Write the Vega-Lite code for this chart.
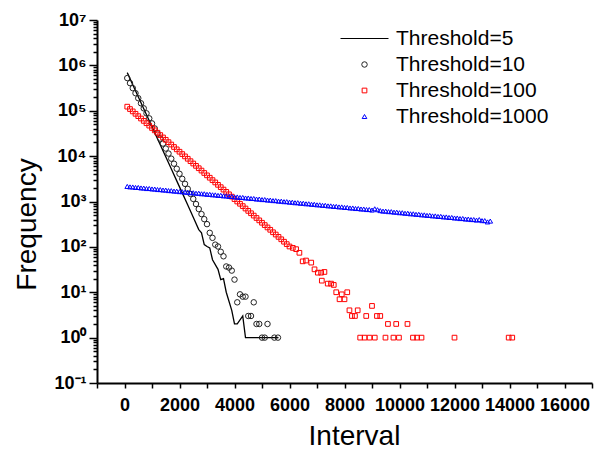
{
  "$schema": "https://vega.github.io/schema/vega-lite/v6.json",
  "width": 495,
  "height": 363,
  "autosize": {"type": "none"},
  "padding": {"left": 97, "top": 20, "right": 5, "bottom": 69},
  "background": "white",
  "config": {
    "view": {"stroke": null},
    "font": "Liberation Sans",
    "axis": {
      "grid": false,
      "domainColor": "#000000",
      "domainWidth": 2,
      "tickColor": "#000000",
      "tickWidth": 1.5,
      "labelFont": "Liberation Sans",
      "labelFontWeight": "bold",
      "labelFontSize": 18,
      "labelColor": "#000000",
      "titleFont": "Liberation Sans",
      "titleFontWeight": "normal",
      "titleFontSize": 28,
      "titleColor": "#000000"
    },
    "legend": {
      "title": null,
      "orient": "none",
      "legendX": 243,
      "legendY": -6,
      "padding": 0,
      "symbolStrokeWidth": 1,
      "labelOffset": 7,
      "labelFont": "Liberation Sans",
      "labelFontSize": 21,
      "labelColor": "#000000",
      "rowPadding": 4
    }
  },
  "data": {
    "values": [
      {"series": "Threshold=5", "interval": 100, "freq": 692000},
      {"series": "Threshold=5", "interval": 300, "freq": 376000},
      {"series": "Threshold=5", "interval": 500, "freq": 204000},
      {"series": "Threshold=5", "interval": 700, "freq": 111000},
      {"series": "Threshold=5", "interval": 900, "freq": 60300},
      {"series": "Threshold=5", "interval": 1100, "freq": 32700},
      {"series": "Threshold=5", "interval": 1300, "freq": 17800},
      {"series": "Threshold=5", "interval": 1500, "freq": 9660},
      {"series": "Threshold=5", "interval": 1700, "freq": 5250},
      {"series": "Threshold=5", "interval": 1900, "freq": 2850},
      {"series": "Threshold=5", "interval": 2100, "freq": 1550},
      {"series": "Threshold=5", "interval": 2300, "freq": 841},
      {"series": "Threshold=5", "interval": 2500, "freq": 450},
      {"series": "Threshold=5", "interval": 2700, "freq": 240},
      {"series": "Threshold=5", "interval": 2800, "freq": 204},
      {"series": "Threshold=5", "interval": 2900, "freq": 112},
      {"series": "Threshold=5", "interval": 3000, "freq": 102},
      {"series": "Threshold=5", "interval": 3100, "freq": 95},
      {"series": "Threshold=5", "interval": 3200, "freq": 52},
      {"series": "Threshold=5", "interval": 3400, "freq": 32},
      {"series": "Threshold=5", "interval": 3500, "freq": 19},
      {"series": "Threshold=5", "interval": 3600, "freq": 20},
      {"series": "Threshold=5", "interval": 3700, "freq": 10},
      {"series": "Threshold=5", "interval": 3900, "freq": 4},
      {"series": "Threshold=5", "interval": 4000, "freq": 2},
      {"series": "Threshold=5", "interval": 4100, "freq": 2},
      {"series": "Threshold=5", "interval": 4300, "freq": 3},
      {"series": "Threshold=5", "interval": 4400, "freq": 1},
      {"series": "Threshold=5", "interval": 5000, "freq": 1},
      {"series": "Threshold=5", "interval": 5600, "freq": 1},

      {"series": "Threshold=10", "interval": 100, "freq": 525000},
      {"series": "Threshold=10", "interval": 200, "freq": 406000},
      {"series": "Threshold=10", "interval": 300, "freq": 315000},
      {"series": "Threshold=10", "interval": 400, "freq": 244000},
      {"series": "Threshold=10", "interval": 500, "freq": 189000},
      {"series": "Threshold=10", "interval": 600, "freq": 146000},
      {"series": "Threshold=10", "interval": 700, "freq": 113000},
      {"series": "Threshold=10", "interval": 800, "freq": 87700},
      {"series": "Threshold=10", "interval": 900, "freq": 67900},
      {"series": "Threshold=10", "interval": 1000, "freq": 52600},
      {"series": "Threshold=10", "interval": 1100, "freq": 40700},
      {"series": "Threshold=10", "interval": 1200, "freq": 31600},
      {"series": "Threshold=10", "interval": 1300, "freq": 24400},
      {"series": "Threshold=10", "interval": 1400, "freq": 18900},
      {"series": "Threshold=10", "interval": 1500, "freq": 14700},
      {"series": "Threshold=10", "interval": 1600, "freq": 11400},
      {"series": "Threshold=10", "interval": 1700, "freq": 8790},
      {"series": "Threshold=10", "interval": 1800, "freq": 6810},
      {"series": "Threshold=10", "interval": 1900, "freq": 5270},
      {"series": "Threshold=10", "interval": 2000, "freq": 4080},
      {"series": "Threshold=10", "interval": 2100, "freq": 3160},
      {"series": "Threshold=10", "interval": 2200, "freq": 2450},
      {"series": "Threshold=10", "interval": 2300, "freq": 1900},
      {"series": "Threshold=10", "interval": 2400, "freq": 1470},
      {"series": "Threshold=10", "interval": 2500, "freq": 1140},
      {"series": "Threshold=10", "interval": 2600, "freq": 881},
      {"series": "Threshold=10", "interval": 2700, "freq": 682},
      {"series": "Threshold=10", "interval": 2800, "freq": 528},
      {"series": "Threshold=10", "interval": 2900, "freq": 409},
      {"series": "Threshold=10", "interval": 3000, "freq": 317},
      {"series": "Threshold=10", "interval": 3100, "freq": 204},
      {"series": "Threshold=10", "interval": 3200, "freq": 158},
      {"series": "Threshold=10", "interval": 3300, "freq": 112},
      {"series": "Threshold=10", "interval": 3400, "freq": 102},
      {"series": "Threshold=10", "interval": 3500, "freq": 78},
      {"series": "Threshold=10", "interval": 3600, "freq": 62},
      {"series": "Threshold=10", "interval": 3700, "freq": 37},
      {"series": "Threshold=10", "interval": 3800, "freq": 35},
      {"series": "Threshold=10", "interval": 3900, "freq": 30},
      {"series": "Threshold=10", "interval": 4000, "freq": 19},
      {"series": "Threshold=10", "interval": 4100, "freq": 6},
      {"series": "Threshold=10", "interval": 4200, "freq": 9},
      {"series": "Threshold=10", "interval": 4300, "freq": 8},
      {"series": "Threshold=10", "interval": 4400, "freq": 8},
      {"series": "Threshold=10", "interval": 4500, "freq": 3},
      {"series": "Threshold=10", "interval": 4600, "freq": 3},
      {"series": "Threshold=10", "interval": 4700, "freq": 6},
      {"series": "Threshold=10", "interval": 4800, "freq": 2},
      {"series": "Threshold=10", "interval": 4900, "freq": 2},
      {"series": "Threshold=10", "interval": 5000, "freq": 1},
      {"series": "Threshold=10", "interval": 5100, "freq": 1},
      {"series": "Threshold=10", "interval": 5200, "freq": 2},
      {"series": "Threshold=10", "interval": 5450, "freq": 1},
      {"series": "Threshold=10", "interval": 5580, "freq": 1},

      {"series": "Threshold=100", "interval": 100, "freq": 123000},
      {"series": "Threshold=100", "interval": 200, "freq": 109000},
      {"series": "Threshold=100", "interval": 300, "freq": 96800},
      {"series": "Threshold=100", "interval": 400, "freq": 85700},
      {"series": "Threshold=100", "interval": 500, "freq": 76000},
      {"series": "Threshold=100", "interval": 600, "freq": 67400},
      {"series": "Threshold=100", "interval": 700, "freq": 59800},
      {"series": "Threshold=100", "interval": 800, "freq": 53100},
      {"series": "Threshold=100", "interval": 900, "freq": 47000},
      {"series": "Threshold=100", "interval": 1000, "freq": 41700},
      {"series": "Threshold=100", "interval": 1100, "freq": 37000},
      {"series": "Threshold=100", "interval": 1200, "freq": 32800},
      {"series": "Threshold=100", "interval": 1300, "freq": 29100},
      {"series": "Threshold=100", "interval": 1400, "freq": 25800},
      {"series": "Threshold=100", "interval": 1500, "freq": 22900},
      {"series": "Threshold=100", "interval": 1600, "freq": 20300},
      {"series": "Threshold=100", "interval": 1700, "freq": 18000},
      {"series": "Threshold=100", "interval": 1800, "freq": 15900},
      {"series": "Threshold=100", "interval": 1900, "freq": 14100},
      {"series": "Threshold=100", "interval": 2000, "freq": 12500},
      {"series": "Threshold=100", "interval": 2100, "freq": 11100},
      {"series": "Threshold=100", "interval": 2200, "freq": 9860},
      {"series": "Threshold=100", "interval": 2300, "freq": 8750},
      {"series": "Threshold=100", "interval": 2400, "freq": 7740},
      {"series": "Threshold=100", "interval": 2500, "freq": 6870},
      {"series": "Threshold=100", "interval": 2600, "freq": 6100},
      {"series": "Threshold=100", "interval": 2700, "freq": 5410},
      {"series": "Threshold=100", "interval": 2800, "freq": 4800},
      {"series": "Threshold=100", "interval": 2900, "freq": 4250},
      {"series": "Threshold=100", "interval": 3000, "freq": 3770},
      {"series": "Threshold=100", "interval": 3100, "freq": 3340},
      {"series": "Threshold=100", "interval": 3200, "freq": 2960},
      {"series": "Threshold=100", "interval": 3300, "freq": 2630},
      {"series": "Threshold=100", "interval": 3400, "freq": 2330},
      {"series": "Threshold=100", "interval": 3500, "freq": 2070},
      {"series": "Threshold=100", "interval": 3600, "freq": 1830},
      {"series": "Threshold=100", "interval": 3700, "freq": 1630},
      {"series": "Threshold=100", "interval": 3800, "freq": 1440},
      {"series": "Threshold=100", "interval": 3900, "freq": 1280},
      {"series": "Threshold=100", "interval": 4000, "freq": 1130},
      {"series": "Threshold=100", "interval": 4100, "freq": 1000},
      {"series": "Threshold=100", "interval": 4200, "freq": 891},
      {"series": "Threshold=100", "interval": 4300, "freq": 791},
      {"series": "Threshold=100", "interval": 4400, "freq": 700},
      {"series": "Threshold=100", "interval": 4500, "freq": 621},
      {"series": "Threshold=100", "interval": 4600, "freq": 551},
      {"series": "Threshold=100", "interval": 4700, "freq": 489},
      {"series": "Threshold=100", "interval": 4800, "freq": 433},
      {"series": "Threshold=100", "interval": 4900, "freq": 384},
      {"series": "Threshold=100", "interval": 5000, "freq": 340},
      {"series": "Threshold=100", "interval": 5100, "freq": 302},
      {"series": "Threshold=100", "interval": 5200, "freq": 268},
      {"series": "Threshold=100", "interval": 5300, "freq": 238},
      {"series": "Threshold=100", "interval": 5400, "freq": 210},
      {"series": "Threshold=100", "interval": 5500, "freq": 187},
      {"series": "Threshold=100", "interval": 5600, "freq": 166},
      {"series": "Threshold=100", "interval": 5700, "freq": 147},
      {"series": "Threshold=100", "interval": 5800, "freq": 130},
      {"series": "Threshold=100", "interval": 5900, "freq": 115},
      {"series": "Threshold=100", "interval": 6000, "freq": 102},
      {"series": "Threshold=100", "interval": 6120, "freq": 95},
      {"series": "Threshold=100", "interval": 6240, "freq": 89},
      {"series": "Threshold=100", "interval": 6360, "freq": 74},
      {"series": "Threshold=100", "interval": 6480, "freq": 48},
      {"series": "Threshold=100", "interval": 6600, "freq": 50},
      {"series": "Threshold=100", "interval": 6790, "freq": 45},
      {"series": "Threshold=100", "interval": 6910, "freq": 32},
      {"series": "Threshold=100", "interval": 7030, "freq": 27},
      {"series": "Threshold=100", "interval": 7150, "freq": 27},
      {"series": "Threshold=100", "interval": 7270, "freq": 28},
      {"series": "Threshold=100", "interval": 7175, "freq": 18},
      {"series": "Threshold=100", "interval": 7390, "freq": 15.5},
      {"series": "Threshold=100", "interval": 7510, "freq": 15.5},
      {"series": "Threshold=100", "interval": 7610, "freq": 14.5},
      {"series": "Threshold=100", "interval": 7700, "freq": 10},
      {"series": "Threshold=100", "interval": 7820, "freq": 7},
      {"series": "Threshold=100", "interval": 7900, "freq": 9},
      {"series": "Threshold=100", "interval": 8000, "freq": 7},
      {"series": "Threshold=100", "interval": 8100, "freq": 10},
      {"series": "Threshold=100", "interval": 8180, "freq": 4},
      {"series": "Threshold=100", "interval": 8480, "freq": 4},
      {"series": "Threshold=100", "interval": 8270, "freq": 3},
      {"series": "Threshold=100", "interval": 8380, "freq": 3},
      {"series": "Threshold=100", "interval": 8790, "freq": 3},
      {"series": "Threshold=100", "interval": 9000, "freq": 5},
      {"series": "Threshold=100", "interval": 9180, "freq": 3},
      {"series": "Threshold=100", "interval": 9300, "freq": 3},
      {"series": "Threshold=100", "interval": 9580, "freq": 2},
      {"series": "Threshold=100", "interval": 9880, "freq": 2},
      {"series": "Threshold=100", "interval": 10290, "freq": 2},
      {"series": "Threshold=100", "interval": 8570, "freq": 1},
      {"series": "Threshold=100", "interval": 8730, "freq": 1},
      {"series": "Threshold=100", "interval": 8910, "freq": 1},
      {"series": "Threshold=100", "interval": 9100, "freq": 1},
      {"series": "Threshold=100", "interval": 9490, "freq": 1},
      {"series": "Threshold=100", "interval": 9780, "freq": 1},
      {"series": "Threshold=100", "interval": 9980, "freq": 1},
      {"series": "Threshold=100", "interval": 10490, "freq": 1},
      {"series": "Threshold=100", "interval": 10640, "freq": 1},
      {"series": "Threshold=100", "interval": 10800, "freq": 1},
      {"series": "Threshold=100", "interval": 12000, "freq": 1},
      {"series": "Threshold=100", "interval": 13970, "freq": 1},
      {"series": "Threshold=100", "interval": 14100, "freq": 1},

      {"series": "Threshold=1000", "interval": 100, "freq": 2150},
      {"series": "Threshold=1000", "interval": 200, "freq": 2100},
      {"series": "Threshold=1000", "interval": 300, "freq": 2090},
      {"series": "Threshold=1000", "interval": 400, "freq": 2040},
      {"series": "Threshold=1000", "interval": 500, "freq": 2040},
      {"series": "Threshold=1000", "interval": 600, "freq": 1990},
      {"series": "Threshold=1000", "interval": 700, "freq": 1980},
      {"series": "Threshold=1000", "interval": 800, "freq": 1930},
      {"series": "Threshold=1000", "interval": 900, "freq": 1935},
      {"series": "Threshold=1000", "interval": 1000, "freq": 1890},
      {"series": "Threshold=1000", "interval": 1100, "freq": 1880},
      {"series": "Threshold=1000", "interval": 1200, "freq": 1835},
      {"series": "Threshold=1000", "interval": 1300, "freq": 1830},
      {"series": "Threshold=1000", "interval": 1400, "freq": 1790},
      {"series": "Threshold=1000", "interval": 1500, "freq": 1785},
      {"series": "Threshold=1000", "interval": 1600, "freq": 1740},
      {"series": "Threshold=1000", "interval": 1700, "freq": 1735},
      {"series": "Threshold=1000", "interval": 1800, "freq": 1695},
      {"series": "Threshold=1000", "interval": 1900, "freq": 1690},
      {"series": "Threshold=1000", "interval": 2000, "freq": 1650},
      {"series": "Threshold=1000", "interval": 2100, "freq": 1645},
      {"series": "Threshold=1000", "interval": 2200, "freq": 1605},
      {"series": "Threshold=1000", "interval": 2300, "freq": 1600},
      {"series": "Threshold=1000", "interval": 2400, "freq": 1560},
      {"series": "Threshold=1000", "interval": 2500, "freq": 1560},
      {"series": "Threshold=1000", "interval": 2600, "freq": 1520},
      {"series": "Threshold=1000", "interval": 2700, "freq": 1520},
      {"series": "Threshold=1000", "interval": 2800, "freq": 1480},
      {"series": "Threshold=1000", "interval": 2900, "freq": 1480},
      {"series": "Threshold=1000", "interval": 3000, "freq": 1440},
      {"series": "Threshold=1000", "interval": 3100, "freq": 1440},
      {"series": "Threshold=1000", "interval": 3200, "freq": 1405},
      {"series": "Threshold=1000", "interval": 3300, "freq": 1400},
      {"series": "Threshold=1000", "interval": 3400, "freq": 1365},
      {"series": "Threshold=1000", "interval": 3500, "freq": 1365},
      {"series": "Threshold=1000", "interval": 3600, "freq": 1330},
      {"series": "Threshold=1000", "interval": 3700, "freq": 1330},
      {"series": "Threshold=1000", "interval": 3800, "freq": 1295},
      {"series": "Threshold=1000", "interval": 3900, "freq": 1295},
      {"series": "Threshold=1000", "interval": 4000, "freq": 1260},
      {"series": "Threshold=1000", "interval": 4100, "freq": 1260},
      {"series": "Threshold=1000", "interval": 4200, "freq": 1228},
      {"series": "Threshold=1000", "interval": 4300, "freq": 1228},
      {"series": "Threshold=1000", "interval": 4400, "freq": 1195},
      {"series": "Threshold=1000", "interval": 4500, "freq": 1195},
      {"series": "Threshold=1000", "interval": 4600, "freq": 1165},
      {"series": "Threshold=1000", "interval": 4700, "freq": 1165},
      {"series": "Threshold=1000", "interval": 4800, "freq": 1132},
      {"series": "Threshold=1000", "interval": 4900, "freq": 1133},
      {"series": "Threshold=1000", "interval": 5000, "freq": 1103},
      {"series": "Threshold=1000", "interval": 5100, "freq": 1104},
      {"series": "Threshold=1000", "interval": 5200, "freq": 1075},
      {"series": "Threshold=1000", "interval": 5300, "freq": 1074},
      {"series": "Threshold=1000", "interval": 5400, "freq": 1047},
      {"series": "Threshold=1000", "interval": 5500, "freq": 1046},
      {"series": "Threshold=1000", "interval": 5600, "freq": 1019},
      {"series": "Threshold=1000", "interval": 5700, "freq": 1018},
      {"series": "Threshold=1000", "interval": 5800, "freq": 992},
      {"series": "Threshold=1000", "interval": 5900, "freq": 993},
      {"series": "Threshold=1000", "interval": 6000, "freq": 966},
      {"series": "Threshold=1000", "interval": 6100, "freq": 966},
      {"series": "Threshold=1000", "interval": 6200, "freq": 940},
      {"series": "Threshold=1000", "interval": 6300, "freq": 941},
      {"series": "Threshold=1000", "interval": 6400, "freq": 915},
      {"series": "Threshold=1000", "interval": 6500, "freq": 916},
      {"series": "Threshold=1000", "interval": 6600, "freq": 891},
      {"series": "Threshold=1000", "interval": 6700, "freq": 892},
      {"series": "Threshold=1000", "interval": 6800, "freq": 868},
      {"series": "Threshold=1000", "interval": 6900, "freq": 868},
      {"series": "Threshold=1000", "interval": 7000, "freq": 845},
      {"series": "Threshold=1000", "interval": 7100, "freq": 845},
      {"series": "Threshold=1000", "interval": 7200, "freq": 823},
      {"series": "Threshold=1000", "interval": 7300, "freq": 823},
      {"series": "Threshold=1000", "interval": 7400, "freq": 801},
      {"series": "Threshold=1000", "interval": 7500, "freq": 801},
      {"series": "Threshold=1000", "interval": 7600, "freq": 780},
      {"series": "Threshold=1000", "interval": 7700, "freq": 780},
      {"series": "Threshold=1000", "interval": 7800, "freq": 760},
      {"series": "Threshold=1000", "interval": 7900, "freq": 760},
      {"series": "Threshold=1000", "interval": 8000, "freq": 740},
      {"series": "Threshold=1000", "interval": 8100, "freq": 739},
      {"series": "Threshold=1000", "interval": 8200, "freq": 720},
      {"series": "Threshold=1000", "interval": 8300, "freq": 720},
      {"series": "Threshold=1000", "interval": 8400, "freq": 701},
      {"series": "Threshold=1000", "interval": 8500, "freq": 701},
      {"series": "Threshold=1000", "interval": 8600, "freq": 683},
      {"series": "Threshold=1000", "interval": 8700, "freq": 683},
      {"series": "Threshold=1000", "interval": 8800, "freq": 665},
      {"series": "Threshold=1000", "interval": 8900, "freq": 665},
      {"series": "Threshold=1000", "interval": 9000, "freq": 648},
      {"series": "Threshold=1000", "interval": 9100, "freq": 690},
      {"series": "Threshold=1000", "interval": 9200, "freq": 660},
      {"series": "Threshold=1000", "interval": 9300, "freq": 630},
      {"series": "Threshold=1000", "interval": 9400, "freq": 614},
      {"series": "Threshold=1000", "interval": 9500, "freq": 614},
      {"series": "Threshold=1000", "interval": 9600, "freq": 598},
      {"series": "Threshold=1000", "interval": 9700, "freq": 598},
      {"series": "Threshold=1000", "interval": 9800, "freq": 582},
      {"series": "Threshold=1000", "interval": 9900, "freq": 582},
      {"series": "Threshold=1000", "interval": 10000, "freq": 566},
      {"series": "Threshold=1000", "interval": 10100, "freq": 566},
      {"series": "Threshold=1000", "interval": 10200, "freq": 551},
      {"series": "Threshold=1000", "interval": 10300, "freq": 551},
      {"series": "Threshold=1000", "interval": 10400, "freq": 536},
      {"series": "Threshold=1000", "interval": 10500, "freq": 536},
      {"series": "Threshold=1000", "interval": 10600, "freq": 522},
      {"series": "Threshold=1000", "interval": 10700, "freq": 522},
      {"series": "Threshold=1000", "interval": 10800, "freq": 508},
      {"series": "Threshold=1000", "interval": 10900, "freq": 508},
      {"series": "Threshold=1000", "interval": 11000, "freq": 495},
      {"series": "Threshold=1000", "interval": 11100, "freq": 495},
      {"series": "Threshold=1000", "interval": 11200, "freq": 482},
      {"series": "Threshold=1000", "interval": 11300, "freq": 482},
      {"series": "Threshold=1000", "interval": 11400, "freq": 469},
      {"series": "Threshold=1000", "interval": 11500, "freq": 470},
      {"series": "Threshold=1000", "interval": 11600, "freq": 457},
      {"series": "Threshold=1000", "interval": 11700, "freq": 457},
      {"series": "Threshold=1000", "interval": 11800, "freq": 445},
      {"series": "Threshold=1000", "interval": 11900, "freq": 445},
      {"series": "Threshold=1000", "interval": 12000, "freq": 433},
      {"series": "Threshold=1000", "interval": 12100, "freq": 433},
      {"series": "Threshold=1000", "interval": 12200, "freq": 421},
      {"series": "Threshold=1000", "interval": 12300, "freq": 422},
      {"series": "Threshold=1000", "interval": 12400, "freq": 410},
      {"series": "Threshold=1000", "interval": 12500, "freq": 411},
      {"series": "Threshold=1000", "interval": 12600, "freq": 400},
      {"series": "Threshold=1000", "interval": 12700, "freq": 400},
      {"series": "Threshold=1000", "interval": 12800, "freq": 389},
      {"series": "Threshold=1000", "interval": 12900, "freq": 400},
      {"series": "Threshold=1000", "interval": 13000, "freq": 379},
      {"series": "Threshold=1000", "interval": 13100, "freq": 379},
      {"series": "Threshold=1000", "interval": 13200, "freq": 355},
      {"series": "Threshold=1000", "interval": 13300, "freq": 370}
    ]
  },
  "encoding": {
    "x": {
      "field": "interval",
      "type": "quantitative",
      "scale": {"domain": [-1000, 17000], "nice": false, "zero": false},
      "axis": {
        "title": "Interval",
        "values": [-1000, 0, 1000, 2000, 3000, 4000, 5000, 6000, 7000, 8000, 9000, 10000, 11000, 12000, 13000, 14000, 15000, 16000, 17000],
        "format": "d",
        "labelExpr": "datum.value % 2000 === 0 ? datum.label : ''",
        "labelOverlap": false,
        "tickSize": 5,
        "labelPadding": 8,
        "titleX": 257,
        "titleY": 61,
        "titleBaseline": "alphabetic"
      }
    },
    "y": {
      "field": "freq",
      "type": "quantitative",
      "scale": {"type": "log", "domain": [0.1, 10000000], "nice": false},
      "axis": {
        "title": "Frequency",
        "values": [0.1, 0.2, 0.3, 0.4, 0.5, 0.6, 0.7, 0.8, 0.9, 1, 2, 3, 4, 5, 6, 7, 8, 9, 10, 20, 30, 40, 50, 60, 70, 80, 90, 100, 200, 300, 400, 500, 600, 700, 800, 900, 1000, 2000, 3000, 4000, 5000, 6000, 7000, 8000, 9000, 10000, 20000, 30000, 40000, 50000, 60000, 70000, 80000, 90000, 100000, 200000, 300000, 400000, 500000, 600000, 700000, 800000, 900000, 1000000, 2000000, 3000000, 4000000, 5000000, 6000000, 7000000, 8000000, 9000000, 10000000],
        "labelExpr": "abs(log(datum.value)/LN10 - round(log(datum.value)/LN10)) < 0.001 ? '10' + ['⁻¹','⁰','¹','²','³','⁴','⁵','⁶','⁷'][round(log(datum.value)/LN10) + 1] : ''",
        "labelOverlap": false,
        "tickSize": {"condition": {"test": "abs(log(datum.value)/LN10 - round(log(datum.value)/LN10)) < 0.001", "value": 8}, "value": 4},
        "labelPadding": 3,
        "titleX": -62,
        "titleY": 204,
        "titleBaseline": "alphabetic"
      }
    },
    "color": {
      "field": "series",
      "type": "nominal",
      "scale": {"domain": ["Threshold=5", "Threshold=10", "Threshold=100", "Threshold=1000"], "range": ["#000000", "#222222", "#ff0000", "#0000ff"]},
      "legend": {
        "encode": {"symbols": {"update": {"fill": {"value": "transparent"}, "strokeWidth": {"value": 1}}}}
      }
    }
  },
  "layer": [
    {
      "transform": [{"filter": "datum.series === 'Threshold=5'"}],
      "mark": {"type": "line", "strokeWidth": 1.3, "interpolate": "linear"},
      "encoding": {}
    },
    {
      "transform": [{"filter": "datum.series !== 'Threshold=5'"}],
      "mark": {"type": "point", "filled": false, "strokeWidth": 1, "opacity": 1},
      "encoding": {
        "shape": {
          "field": "series",
          "type": "nominal",
          "scale": {"domain": ["Threshold=5", "Threshold=10", "Threshold=100", "Threshold=1000"], "range": ["stroke", "circle", "square", "triangle-up"]},
          "legend": {
            "encode": {"symbols": {"update": {"fill": {"value": "transparent"}, "strokeWidth": {"value": 1}}}}
          }
        },
        "size": {
          "field": "series",
          "type": "nominal",
          "scale": {"type": "ordinal", "domain": ["Threshold=5", "Threshold=10", "Threshold=100", "Threshold=1000"], "range": [2304, 30, 22, 22]},
          "legend": {
            "encode": {"symbols": {"update": {"fill": {"value": "transparent"}, "strokeWidth": {"value": 1}}}}
          }
        }
      }
    }
  ]
}
